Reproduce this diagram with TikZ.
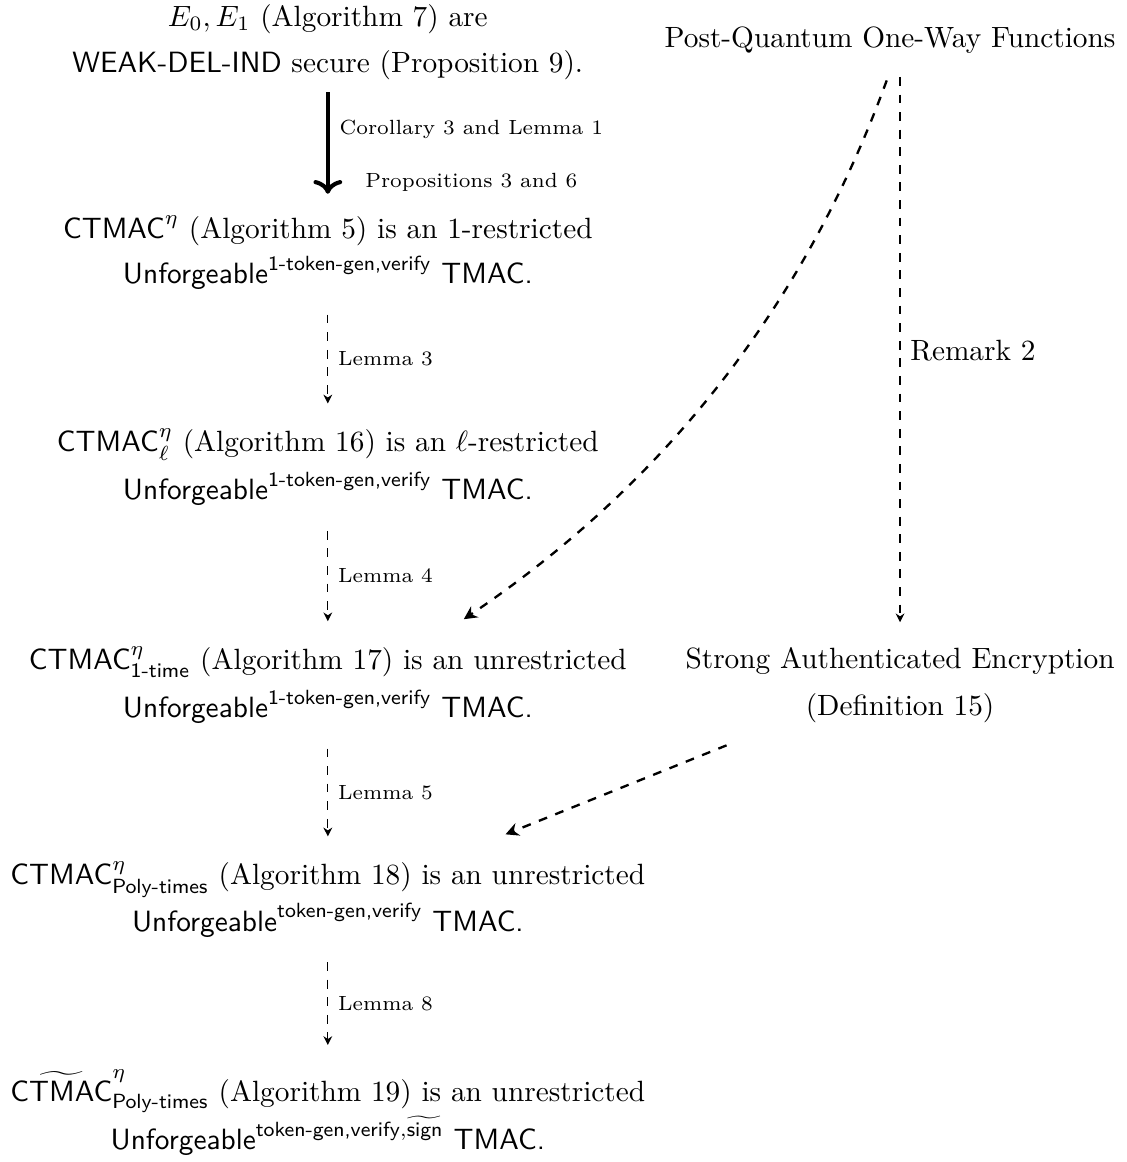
\documentclass[tikz,border=0pt]{standalone}
\usepackage{amsmath}
\usepackage{tikz}
\usetikzlibrary{calc,positioning,arrows.meta}

\begin{document}
\begin{tikzpicture}[
  stmt/.style={align=center},
  strong/.style={->,line width=1.4pt,shorten <=0.5pt,shorten >=4pt},
  reduce/.style={-{Stealth[length=3pt,width=3pt]},dashed,shorten <=5pt,shorten >=5pt},
  extra/.style={-{Stealth[length=4.5pt,width=4.5pt]},dashed,thick},
  lbl/.style={right,font=\scriptsize}]
\useasboundingbox (-3.93,0.48) rectangle (9.57,-13.45);

% left column
\node[stmt] (a) at (0,-0.025) {$E_0,E_1$ (Algorithm 7) are\\[4pt]\textsf{WEAK-DEL-IND} secure (Proposition 9).};
\node[stmt] (b) at (0,-2.55) {$\textsf{CTMAC}^{\eta}$ (Algorithm 5) is an 1-restricted\\[2.5pt]$\textsf{Unforgeable}^{\textsf{1-token-gen,verify}}$ \textsf{TMAC.}};
\node[stmt] (c) at (0,-5.12) {$\textsf{CTMAC}^{\eta}_{\ell}$ (Algorithm 16) is an $\ell$-restricted\\[3pt]$\textsf{Unforgeable}^{\textsf{1-token-gen,verify}}$ \textsf{TMAC.}};
\node[stmt] (d) at (0,-7.73) {$\textsf{CTMAC}^{\eta}_{\textsf{1-time}}$ (Algorithm 17) is an unrestricted\\[3pt]$\textsf{Unforgeable}^{\textsf{1-token-gen,verify}}$ \textsf{TMAC.}};
\node[stmt] (e) at (0,-10.3) {$\textsf{CTMAC}^{\eta}_{\textsf{Poly-times}}$ (Algorithm 18) is an unrestricted\\[1pt]$\textsf{Unforgeable}^{\textsf{token-gen,verify}}$ \textsf{TMAC.}};
\node[stmt] (f) at (0,-12.86) {$\widetilde{\textsf{CTMAC}}^{\eta}_{\textsf{Poly-times}}$ (Algorithm 19) is an unrestricted\\[0pt]$\textsf{Unforgeable}^{\textsf{token-gen,verify},\widetilde{\textsf{sign}}}$ \textsf{TMAC.}};

% right column
\node (pq) at (6.74,0) {Post-Quantum One-Way Functions};
\node[stmt] (sae) at (6.86,-7.73) {Strong Authenticated Encryption\\[4pt](Definition 15)};

\draw[strong] (a.south) -- node[lbl,align=center,pos=0.57] {Corollary 3 and Lemma 1\\[10pt]Propositions 3 and 6} (b.north);
\draw[reduce] (b.south) -- node[lbl] {Lemma 3} (c.north);
\draw[reduce] (c.south) -- node[lbl] {Lemma 4} (d.north);
\draw[reduce] (d.south) -- node[lbl] {Lemma 5} (e.north);
\draw[reduce] (e.south) -- node[lbl] {Lemma 8} (f.north);

\draw[-{Stealth[length=3pt,width=3pt]},dashed,shorten <=4.5pt,shorten >=5pt] (pq.south -| sae.north) -- node[right] {Remark 2} (sae.north);
\draw[extra] ($(pq.south)+(-0.04,-0.2)$) to[out=-110,in=34,looseness=0.9] ($(d.north)+(1.63,0.2)$);
\draw[extra] ($(sae.south)+(-2.08,-0.15)$) -- ($(e.north)+(2.13,0.2)$);
\end{tikzpicture}
\end{document}
